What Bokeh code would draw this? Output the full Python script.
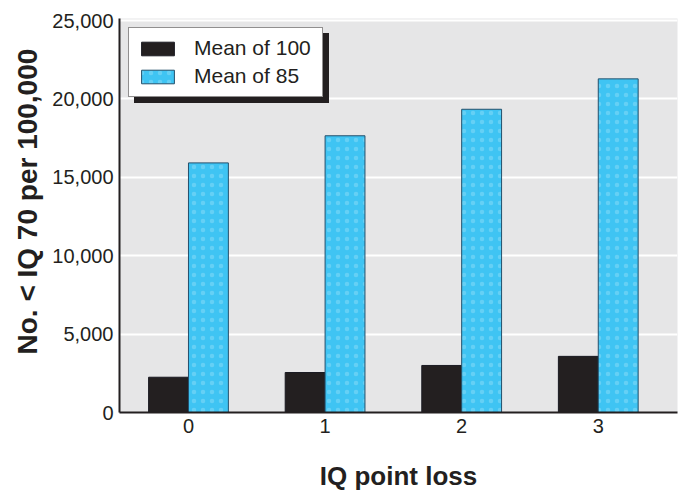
from bokeh.plotting import figure
from bokeh.models import ColumnDataSource, FixedTicker, NumeralTickFormatter, Range1d, Legend, LegendItem, Title
from bokeh.transform import dodge
from bokeh.embed import file_html
from bokeh.resources import INLINE

# ---- data ----
categories = [0, 1, 2, 3]
tick_labels = ["0", "1", "2", "3"]
mean_100 = [2250, 2550, 3000, 3580]
mean_85 = [15920, 17650, 19340, 21280]
y_ticks = [0, 5000, 10000, 15000, 20000, 25000]
series_names = ["Mean of 100", "Mean of 85"]
x_title = "IQ point loss"
y_title = "No. < IQ 70 per 100,000"

source = ColumnDataSource(data=dict(x=categories, m100=mean_100, m85=mean_85))

FONT = "Liberation Sans"
INK = "#231f20"
BLUE = "#3fc4f3"

p = figure(width=679, height=496, output_backend="svg", toolbar_location=None,
           x_range=Range1d(-0.505, 3.58), y_range=Range1d(0, 25130),
           min_border_left=119, min_border_top=18, min_border_right=2, min_border_bottom=84)

p.background_fill_color = "#e6e6e7"
p.border_fill_color = "white"
p.outline_line_color = None

bw = 0.292
r1 = p.vbar(x=dodge("x", -bw / 2), top="m100", width=bw, source=source,
            fill_color=INK, line_color="#1a1a22", line_width=1)
r2 = p.vbar(x=dodge("x", bw / 2), top="m85", width=bw, source=source,
            fill_color=BLUE, line_color="#24506b", line_width=1,
            hatch_pattern="dot", hatch_color="white", hatch_alpha=0.2, hatch_scale=9)

# grid
p.xgrid.grid_line_color = None
p.ygrid.grid_line_color = "white"
p.ygrid.grid_line_width = 2
p.ygrid.ticker = FixedTicker(ticks=y_ticks)

# axes
p.xaxis.ticker = FixedTicker(ticks=categories)
p.xaxis.major_label_overrides = {c: t for c, t in zip(categories, tick_labels)}
p.yaxis.ticker = FixedTicker(ticks=y_ticks)
p.yaxis.formatter = NumeralTickFormatter(format="0,0")
for ax in (p.xaxis, p.yaxis):
    ax.major_tick_line_color = None
    ax.minor_tick_line_color = None
    ax.major_tick_out = 0
    ax.major_tick_in = 0
    ax.axis_line_color = INK
    ax.axis_line_width = 2
    ax.major_label_text_font = FONT
    ax.major_label_text_font_size = "20px"
    ax.major_label_text_color = INK
    ax.axis_label_text_font = FONT
    ax.axis_label_text_font_style = "bold"
    ax.axis_label_text_color = INK

p.xaxis.axis_label_text_font_size = "26px"
p.xaxis.axis_label = x_title
p.xaxis.major_label_standoff = 6
p.yaxis.major_label_standoff = 6
p.xaxis.axis_label_standoff = 25

# y-axis title placed as a left-side title so it can sit slightly above centre
ytitle = Title(text=y_title, align="left", offset=58, standoff=12,
               vertical_align="middle",
               text_font=FONT, text_font_style="bold", text_font_size="28px",
               text_color=INK)
p.add_layout(ytitle, "left")

front_items = [LegendItem(label=series_names[0], renderers=[r1]),
               LegendItem(label=series_names[1], renderers=[r2])]
shadow_items = [LegendItem(label=" ", renderers=[r1]),
                LegendItem(label=" ", renderers=[r2])]

def make_legend(items, margin, bg):
    return Legend(items=items, location="top_left", margin=margin,
                  background_fill_color=bg, background_fill_alpha=1.0,
                  border_line_color=INK, border_line_width=1,
                  label_text_font=FONT, label_text_font_size="21px",
                  label_text_color=INK, glyph_width=41, glyph_height=17,
                  label_standoff=16, label_width=120, label_height=24,
                  spacing=4, padding=8)

shadow = make_legend(shadow_items, 15, INK)
front = make_legend(front_items, 9, "white")
p.add_layout(shadow, "center")
p.add_layout(front, "center")

open("out.html", "w").write(file_html(p, INLINE))
